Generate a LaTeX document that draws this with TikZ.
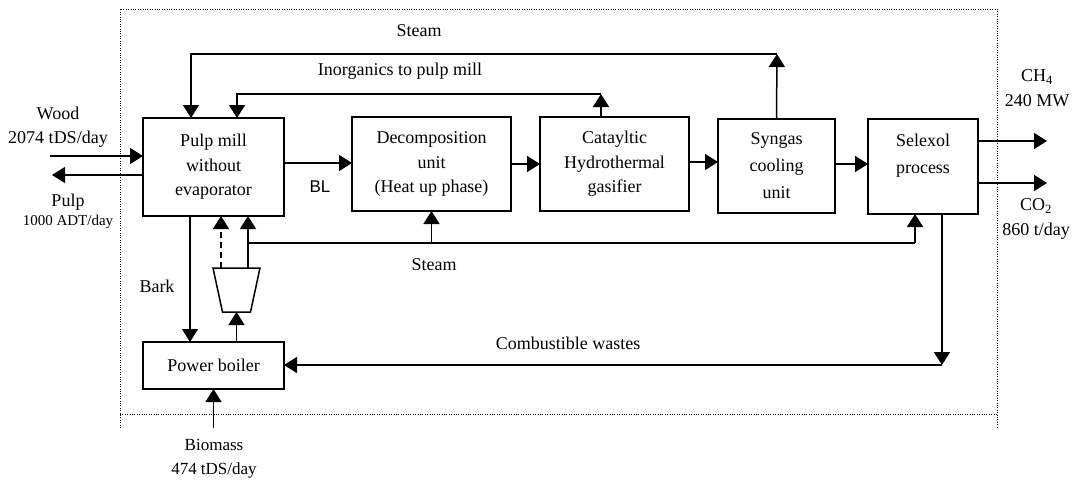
\documentclass[tikz,border=0pt]{standalone}
\usepackage{fontspec}
\setmainfont{Liberation Serif}
\newfontfamily\blfont{Liberation Sans}
\usetikzlibrary{arrows.meta,calc}
\begin{document}
\begin{tikzpicture}[x=1pt,y=-1pt,
  every node/.style={font=\fontsize{18}{24.5}\selectfont, inner sep=0pt, outer sep=0pt},
  unit/.style={draw, line width=1.5pt, align=center},
  arr/.style={line width=1.5pt, -{Triangle[length=13pt,width=16pt]}},
  plainline/.style={line width=1.5pt},
  frame/.style={line width=1pt, dash pattern=on 1pt off 1.4pt},
  lbl/.style={align=center},
  smalllbl/.style={align=center, font=\fontsize{15}{18}\selectfont}]
\useasboundingbox (0,0) rectangle (1077,480);
% dotted system boundary
\draw[frame] (120,428) -- (120,9) -- (997,9) -- (997,428);
\draw[frame] (120,414) -- (997,414);
% units
\node[unit, minimum width=141pt, minimum height=98pt] (pulp) at (213.5,167) {Pulp mill\\without\\evaporator};
\node[unit, minimum width=159pt, minimum height=94pt] (decomp) at (431.5,164) {Decomposition\\unit\\(Heat up phase)};
\node[unit, minimum width=149pt, minimum height=94pt] (cat) at (614.5,164) {Catayltic\\Hydrothermal\\gasifier};
\node[unit, minimum width=117pt, minimum height=94pt, font=\fontsize{18}{27}\selectfont] (syn) at (776.5,166) {Syngas\\cooling\\unit};
\node[unit, minimum width=110pt, minimum height=95pt] (sel) at (923,166.5) {};
\node[lbl, font=\fontsize{18}{27}\selectfont] (selt) at (923,156) {Selexol\\process};
\node[unit, minimum width=141pt, minimum height=47pt] (boiler) at (213.5,365.5) {Power boiler};
% turbine (trapezium drawn on an invisible node)
\node[minimum width=47pt, minimum height=44pt] (turb) at (236.5,290) {};
\draw[line width=1.5pt] (turb.north west) -- (turb.north east) -- ($(turb.south east)+(-9.5,0)$) -- ($(turb.south west)+(9.5,0)$) -- cycle;
% helper coordinates
\coordinate (wood) at (50,156);
\coordinate (pulpout) at (52,175);
\coordinate (bly) at (0,163);
\coordinate (stm1) at (777,54);
\coordinate (stm2) at (191,54);
\coordinate (inA) at (601,94);
\coordinate (inB) at (237,94);
\coordinate (s1) at (248,243);
\coordinate (s2) at (915,243);
\coordinate (dsh) at (221,0);
\coordinate (bk) at (190,0);
\coordinate (c1) at (942,365);
\coordinate (bm) at (213.5,428);
\coordinate (ch) at (1047,141);
\coordinate (co) at (1047,183);
% main line
\draw[arr] (wood) -- (pulp.west |- wood);
\draw[arr] (pulp.west |- pulpout) -- (pulpout);
\draw[arr] (pulp.east |- bly) -- (decomp.west |- bly);
\draw[arr] (decomp.east) -- (decomp.east -| cat.west);
\draw[arr] ($(cat.east)+(0,-2)$) -- ($(cat.east -| syn.west)+(0,-2)$);
\draw[arr] ($(syn.east)+(0,-2)$) -- ($(syn.east -| sel.west)+(0,-2)$);
\draw[arr] (sel.east |- ch) -- (ch);
\draw[arr] (sel.east |- co) -- (co);
% top steam loop
\draw[arr] (syn.north) -- (stm1);
\draw[arr] (stm1) -- (stm2) -- (stm2 |- pulp.north);
% inorganics loop
\draw[arr] (inA |- cat.north) -- (inA);
\draw[arr] (inA) -- (inB) -- (inB |- pulp.north);
% lower steam
\draw[arr] (s1 |- turb.north) -- (s1 |- pulp.south);
\draw[plainline] (s1) -- (s2);
\draw[arr] (s2) -- (s2 |- sel.south);
\draw[arr] (decomp.south |- s1) -- (decomp.south);
\draw[arr, dashed, dash pattern=on 6pt off 4pt] (dsh |- turb.north) -- (dsh |- pulp.south);
% boiler links
\draw[arr] (turb.south |- boiler.north) -- (turb.south);
\draw[arr] (bk |- pulp.south) -- (bk |- boiler.north);
\draw[arr] (c1 |- sel.south) -- (c1);
\draw[arr] (c1) -- (boiler.east |- c1);
\draw[arr] (bm) -- (boiler.south);
% labels
\node[lbl] (woodl) at (58,127) {Wood\\2074 tDS/day};
\node[lbl] (pulpl) at (68,202) {Pulp};
\node[smalllbl] (pulpq) at (68,222) {1000 ADT/day};
\node (bl) at (320,187) {\blfont\fontsize{17}{20}\selectfont BL};
\node (steamtop) at (419,31) {Steam};
\node (inorg) at (400,71) {Inorganics to pulp mill};
\node (steamlow) at (434,265) {Steam};
\node (bark) at (157,286) {Bark};
\node (comb) at (568,343) {Combustible wastes};
\node[lbl, font=\fontsize{17}{24}\selectfont] (biom) at (214,459) {Biomass\\474 tDS/day};
\node[lbl] (chl) at (1037,88) {CH\textsubscript{4}\\240 MW};
\node[lbl] (col) at (1036,219) {CO\textsubscript{2}\\860 t/day};
\end{tikzpicture}
\end{document}
